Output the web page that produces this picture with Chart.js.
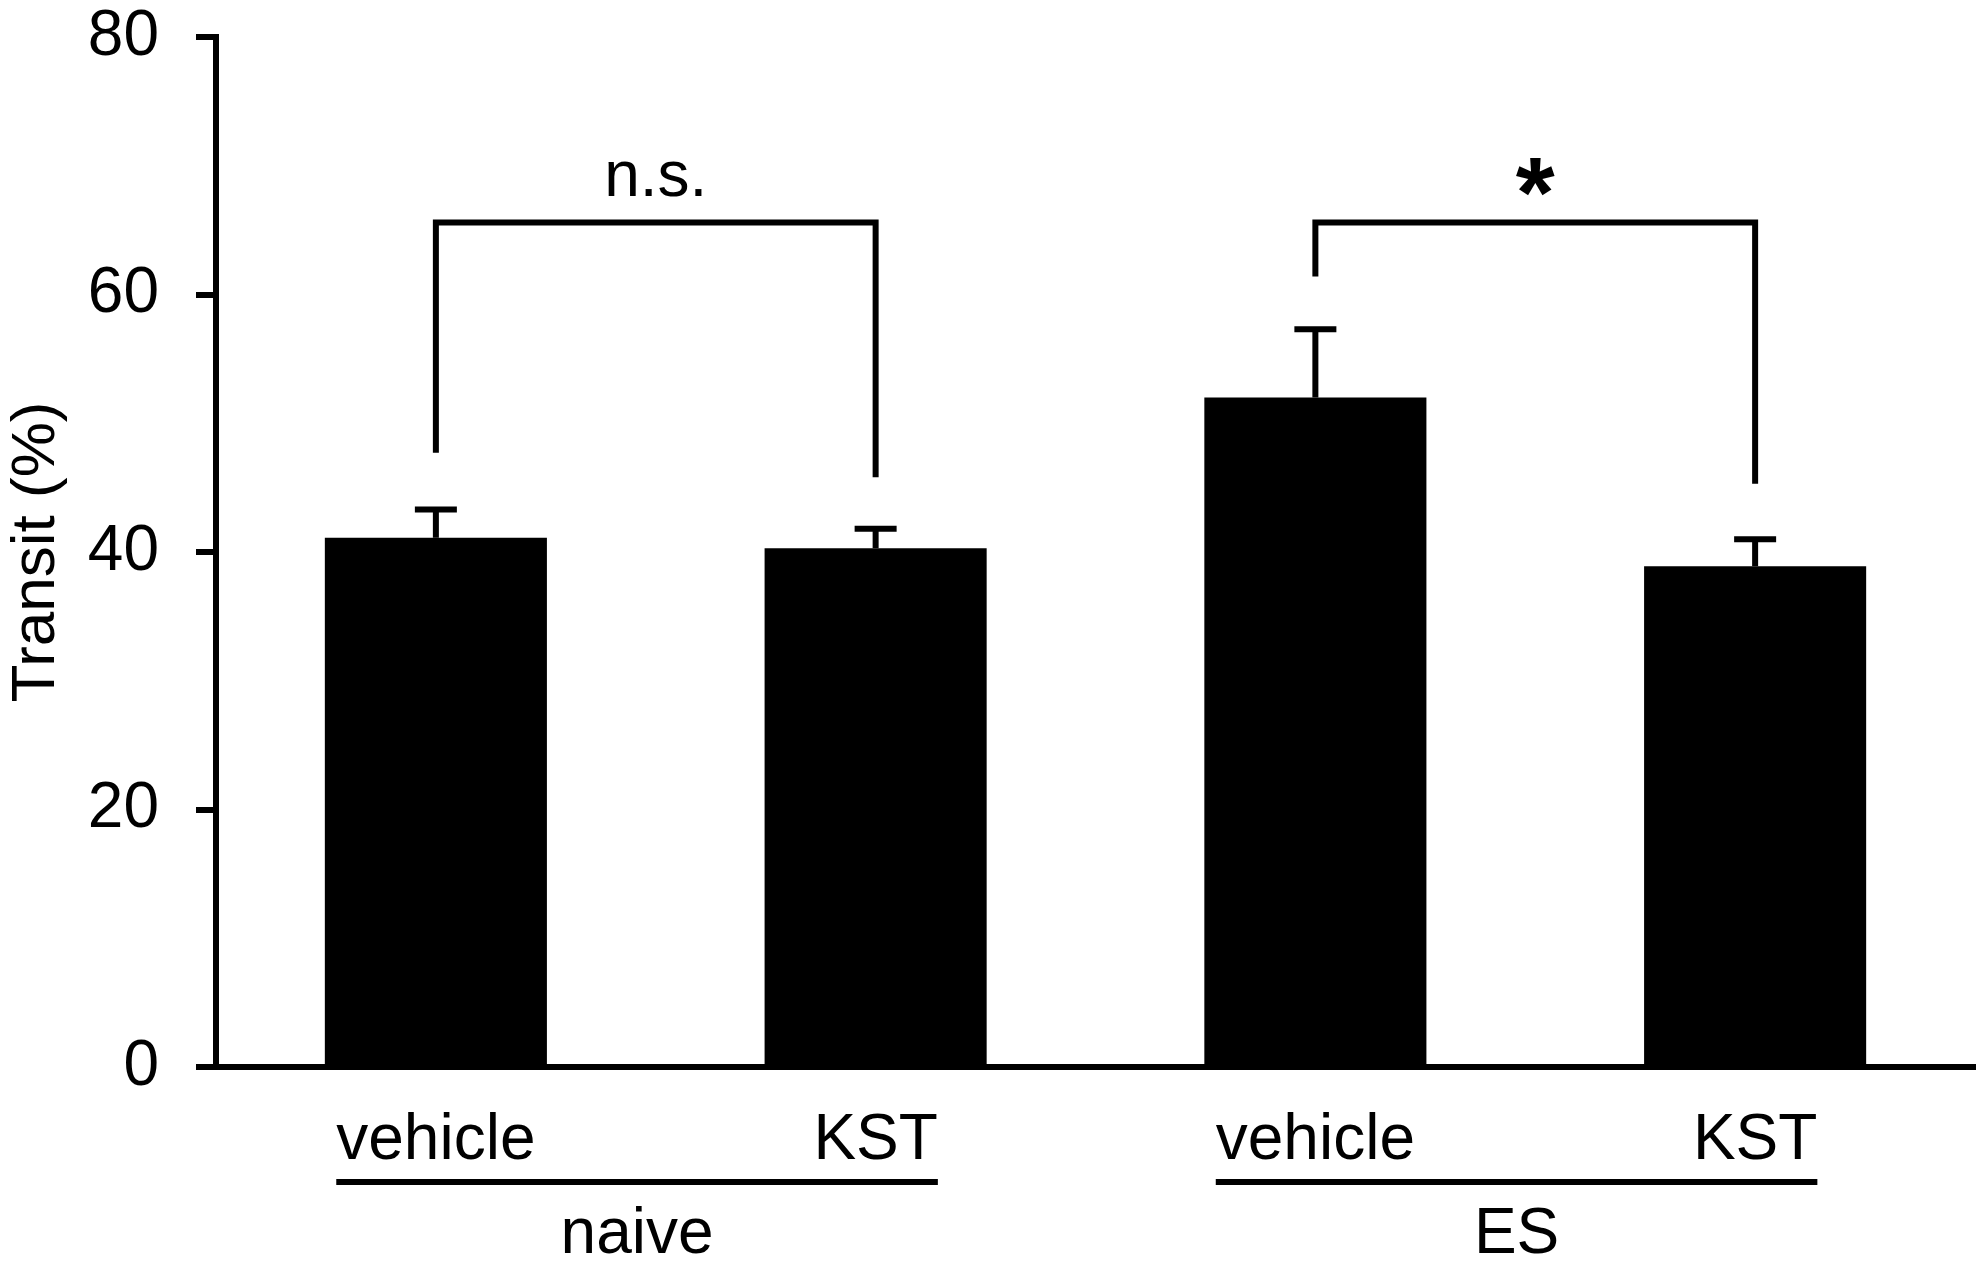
<!DOCTYPE html>
<html>
<head>
<meta charset="utf-8">
<title>Transit</title>
<script src="https://cdn.jsdelivr.net/npm/chart.js@4.4.0/dist/chart.umd.min.js"></script>
<style>
	html, body { margin: 0; padding: 0; background: #fff; }
	canvas { display: block; }
</style>
</head>
<body>
<canvas id="chart-transit" width="1983" height="1265"></canvas>
<script>
	var categories = ["vehicle", "KST", "vehicle", "KST"];
	var groups = ["naive", "ES"];
	var transitMean = [41.1, 40.3, 52.0, 38.9];
	var transitError = [2.2, 1.5, 5.3, 2.1];
	var yTicks = [0, 20, 40, 60, 80];

	var bracketFrom = [0, 2];
	var bracketTo = [1, 3];
	var bracketTop = [65.6, 65.6];
	var bracketLeftEnd = [47.7, 61.4];
	var bracketRightEnd = [45.8, 45.3];
	var bracketLabel = ["n.s.", "*"];

	var fontFamily = "'Liberation Sans', Arial, sans-serif";

	function DrawErrorBars(chart)
	{
		let ctx = chart.ctx;
		let x = chart.scales.x;
		let y = chart.scales.y;

		ctx.save();
		ctx.strokeStyle = "#000";
		ctx.lineWidth = 6;
		for (let i = 0; i < transitMean.length; i++)
		{
			let px = x.getPixelForValue(i);
			let top = y.getPixelForValue(transitMean[i] + transitError[i]);
			ctx.beginPath();
			ctx.moveTo(px, y.getPixelForValue(transitMean[i]));
			ctx.lineTo(px, top);
			ctx.moveTo(px - 21, top);
			ctx.lineTo(px + 21, top);
			ctx.stroke();
		}
		ctx.restore();
	}

	function DrawBrackets(chart)
	{
		let ctx = chart.ctx;
		let x = chart.scales.x;
		let y = chart.scales.y;

		ctx.save();
		ctx.strokeStyle = "#000";
		ctx.fillStyle = "#000";
		ctx.lineWidth = 6;
		ctx.textAlign = "center";
		for (let i = 0; i < bracketLabel.length; i++)
		{
			let x1 = x.getPixelForValue(bracketFrom[i]);
			let x2 = x.getPixelForValue(bracketTo[i]);
			let top = y.getPixelForValue(bracketTop[i]);

			ctx.beginPath();
			ctx.moveTo(x1, y.getPixelForValue(bracketLeftEnd[i]));
			ctx.lineTo(x1, top);
			ctx.lineTo(x2, top);
			ctx.lineTo(x2, y.getPixelForValue(bracketRightEnd[i]));
			ctx.stroke();

			if (bracketLabel[i] == "*")
			{
				ctx.font = "bold 100px " + fontFamily;
				ctx.fillText(bracketLabel[i], (x1 + x2) / 2, top + 5);
			}
			else
			{
				ctx.font = "64px " + fontFamily;
				ctx.fillText(bracketLabel[i], (x1 + x2) / 2, top - 26);
			}
		}
		ctx.restore();
	}

	function DrawGroupLabels(chart)
	{
		let ctx = chart.ctx;
		let x = chart.scales.x;
		let bottom = chart.chartArea.bottom;
		let perGroup = categories.length / groups.length;

		ctx.save();
		ctx.font = "64px " + fontFamily;
		ctx.strokeStyle = "#000";
		ctx.fillStyle = "#000";
		ctx.lineWidth = 6;
		ctx.textAlign = "center";
		for (let g = 0; g < groups.length; g++)
		{
			let first = g * perGroup;
			let last = first + perGroup - 1;
			let left = x.getPixelForValue(first) - ctx.measureText(categories[first]).width / 2;
			let right = x.getPixelForValue(last) + ctx.measureText(categories[last]).width / 2;

			ctx.beginPath();
			ctx.moveTo(left, bottom + 115);
			ctx.lineTo(right, bottom + 115);
			ctx.stroke();

			ctx.fillText(groups[g], (left + right) / 2, bottom + 186);
		}
		ctx.restore();
	}

	var annotations =
	{
		id: "transitAnnotations",
		afterDatasetsDraw: function(chart)
		{
			DrawErrorBars(chart);
			DrawBrackets(chart);
		},
		afterDraw: function(chart)
		{
			DrawGroupLabels(chart);
		}
	};

	Chart.defaults.font.family = fontFamily;
	Chart.defaults.color = "#000";

	new Chart("chart-transit", {
		type: "bar",
		data: {
			labels: categories,
			datasets: [{
				data: transitMean,
				backgroundColor: "#000",
				borderWidth: 0,
				barPercentage: 0.505,
				categoryPercentage: 1
			}]
		},
		options: {
			responsive: false,
			devicePixelRatio: 1,
			animation: false,
			layout: { padding: { top: 0, right: 8, left: 0, bottom: 0 } },
			plugins: {
				legend: { display: false },
				tooltip: { enabled: false }
			},
			scales: {
				x: {
					grid: { display: false },
					border: { display: true, color: "#000", width: 6 },
					ticks: { color: "#000", font: { size: 64 }, padding: 28 },
					afterFit: function(scale) { scale.height = 198; }
				},
				y: {
					min: 0,
					max: 80,
					afterBuildTicks: function(scale)
					{
						scale.ticks = yTicks.map(function(v) { return { value: v }; });
					},
					ticks: { color: "#000", font: { size: 64 }, padding: 37 },
					grid: { drawOnChartArea: false, drawTicks: true, tickLength: 20, color: "#000", lineWidth: 6 },
					border: { display: true, color: "#000", width: 6 },
					title: { display: true, text: "Transit (%)", color: "#000", font: { size: 62 }, padding: 0 },
					afterFit: function(scale)
					{
						scale.width = 216;
						scale.paddingTop = 37;
					}
				}
			}
		},
		plugins: [annotations]
	});
</script>
</body>
</html>
